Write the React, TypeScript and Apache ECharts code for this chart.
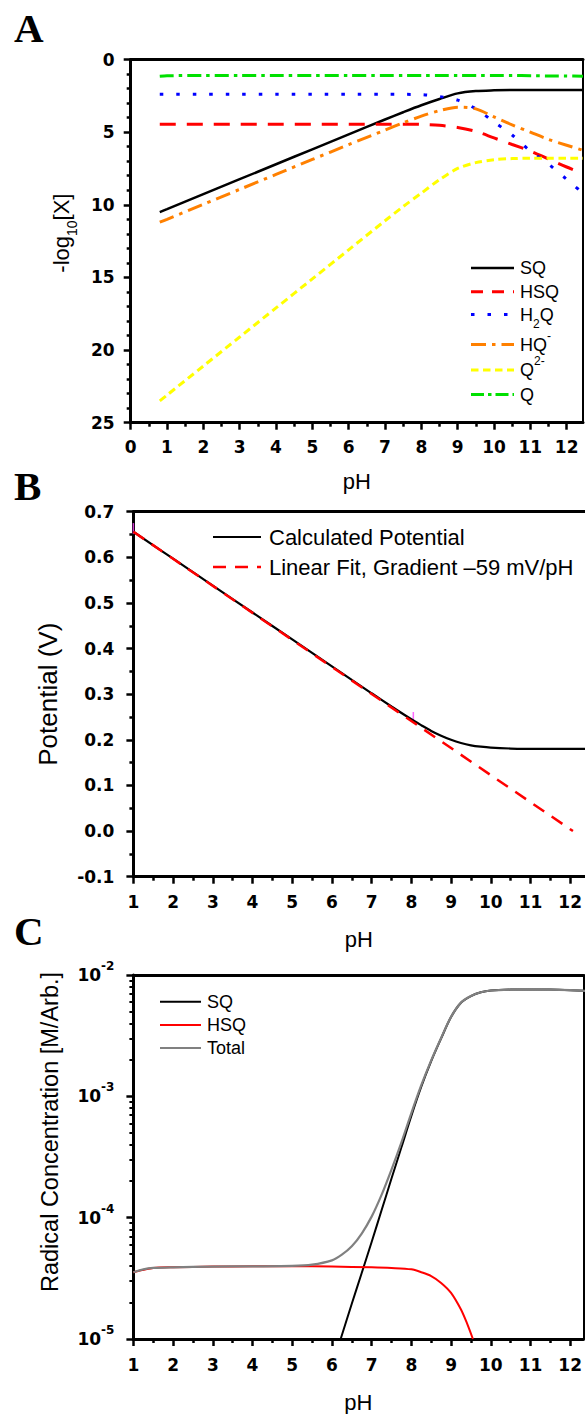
import React, { useEffect, useRef } from 'react';
import * as echarts from 'echarts';

// ---------- Panel A : -log10[X] vs pH ----------
const PH_A = [0.8, 1, 2, 3, 4, 5, 6, 7, 7.5, 8, 8.5, 9, 9.5, 10, 10.5, 11, 11.5, 12, 12.45];
const SQ_A = [10.5, 10.3, 9.27, 8.24, 7.21, 6.18, 5.15, 4.13, 3.63, 3.15, 2.72, 2.33, 2.17, 2.12, 2.1, 2.1, 2.1, 2.1, 2.1];
const HSQ_A = [4.45, 4.45, 4.45, 4.45, 4.45, 4.45, 4.45, 4.45, 4.45, 4.47, 4.53, 4.68, 4.95, 5.4, 5.85, 6.3, 6.85, 7.4, 7.85];
const H2Q_A = [2.4, 2.4, 2.4, 2.4, 2.4, 2.4, 2.4, 2.4, 2.4, 2.42, 2.55, 2.8, 3.4, 4.3, 5.2, 6.3, 7.2, 8.25, 9.2];
const HQ_A = [11.2, 11.0, 9.97, 8.94, 7.91, 6.88, 5.86, 4.86, 4.36, 3.9, 3.52, 3.28, 3.4, 3.95, 4.5, 5.0, 5.5, 5.9, 6.25];
const Q2_A = [23.5, 23.1, 21.1, 19.1, 17.1, 15.1, 13.1, 11.1, 10.12, 9.2, 8.27, 7.5, 7.1, 6.9, 6.82, 6.8, 6.8, 6.8, 6.8];
const Q_A = [1.15, 1.12, 1.1, 1.1, 1.1, 1.1, 1.1, 1.1, 1.1, 1.1, 1.1, 1.1, 1.1, 1.1, 1.1, 1.12, 1.13, 1.14, 1.15];
const X_TICKS_A = [0, 1, 2, 3, 4, 5, 6, 7, 8, 9, 10, 11, 12];

// ---------- Panel B : Potential vs pH ----------
const PH_B = [1, 2, 3, 4, 5, 6, 7, 7.5, 8, 8.25, 8.5, 8.75, 9, 9.25, 9.5, 9.75, 10, 10.5, 11, 11.5, 12, 12.4];
const E_B = [0.656, 0.597, 0.538, 0.479, 0.42, 0.361, 0.302, 0.273, 0.245, 0.232, 0.2195, 0.209, 0.2, 0.193, 0.188, 0.1849, 0.1828, 0.1809, 0.1803, 0.1801, 0.18, 0.18];
const PH_FIT_B = [1, 12.07];
const E_FIT_B = [0.656, 0.0];
const MARKS_B = [[1.0, 0.663], [8.05, 0.249]];
const X_TICKS_BC = [1, 2, 3, 4, 5, 6, 7, 8, 9, 10, 11, 12];

// ---------- Panel C : Radical concentration vs pH ----------
const PH_C_SQ = [6.22, 6.5, 6.75, 7, 7.25, 7.5, 7.75, 8, 8.25, 8.5, 8.75, 9, 9.25, 9.5, 9.75, 10, 10.5, 11, 11.5, 12, 12.4];
const SQ_C = [1e-5, 1.95e-5, 3.5e-5, 6.3e-5, 1.15e-4, 2.1e-4, 3.8e-4, 6.9e-4, 1.2e-3, 1.95e-3, 3.0e-3, 4.5e-3, 5.9e-3, 6.7e-3, 7.2e-3, 7.45e-3, 7.58e-3, 7.6e-3, 7.58e-3, 7.5e-3, 7.4e-3];
const PH_C_HSQ = [1, 1.5, 2, 3, 4, 5, 6, 7, 7.5, 8, 8.25, 8.5, 8.75, 9, 9.25, 9.4, 9.55];
const HSQ_C = [3.55e-5, 3.85e-5, 3.9e-5, 3.95e-5, 3.97e-5, 3.98e-5, 3.95e-5, 3.9e-5, 3.85e-5, 3.75e-5, 3.55e-5, 3.3e-5, 2.9e-5, 2.4e-5, 1.75e-5, 1.35e-5, 1.0e-5];
const PH_C_TOTAL = [1, 1.25, 1.5, 2, 3, 4, 5, 5.5, 6, 6.25, 6.5, 6.75, 7, 7.25, 7.5, 7.75, 8, 8.25, 8.5, 8.75, 9, 9.25, 9.5, 9.75, 10, 10.5, 11, 11.5, 12, 12.4];
const TOTAL_C = [3.55e-5, 3.75e-5, 3.85e-5, 3.9e-5, 3.95e-5, 3.97e-5, 4.0e-5, 4.1e-5, 4.45e-5, 4.95e-5, 5.8e-5, 7.4e-5, 1.02e-4, 1.54e-4, 2.49e-4, 4.18e-4, 7.28e-4, 1.235e-3, 1.98e-3, 3.03e-3, 4.52e-3, 5.92e-3, 6.71e-3, 7.2e-3, 7.45e-3, 7.58e-3, 7.6e-3, 7.58e-3, 7.5e-3, 7.4e-3];
const Y_TICKS_C = [1e-5, 1e-4, 1e-3, 1e-2];
const Y_MINOR_C = [
  2e-5, 3e-5, 4e-5, 5e-5, 6e-5, 7e-5, 8e-5, 9e-5,
  2e-4, 3e-4, 4e-4, 5e-4, 6e-4, 7e-4, 8e-4, 9e-4,
  2e-3, 3e-3, 4e-3, 5e-3, 6e-3, 7e-3, 8e-3, 9e-3,
];

const SANS = "'Liberation Sans', Arial, sans-serif";
const TICK = { fontFamily: "'DejaVu Sans', sans-serif", fontWeight: 'bold', fontSize: 17, color: '#000' };

const zip = (xs: number[], ys: number[]) => xs.map((x, i) => [x, ys[i]]);

function xBottom(grid: number, min: number, max: number, ticks: number[], nameGap: number, margin: number) {
  return {
    type: 'value', gridIndex: grid, position: 'bottom', min, max, interval: 1,
    name: 'pH', nameLocation: 'middle', nameGap,
    nameTextStyle: { fontFamily: SANS, fontSize: 22, color: '#000', verticalAlign: 'middle' },
    axisLine: { show: true, onZero: false, lineStyle: { color: '#000', width: 3 } },
    axisTick: { show: true, length: 7, customValues: ticks, lineStyle: { color: '#000', width: 2.5 } },
    minorTick: { show: true, splitNumber: 2, length: 4, lineStyle: { color: '#000', width: 2.5 } },
    axisLabel: { ...TICK, margin, customValues: ticks },
    splitLine: { show: false },
  };
}
function xTop(grid: number, min: number, max: number) {
  return {
    type: 'value', gridIndex: grid, position: 'top', min, max,
    axisLine: { show: true, onZero: false, lineStyle: { color: '#000', width: 3 } },
    axisTick: { show: false }, axisLabel: { show: false }, splitLine: { show: false },
  };
}
function yRight(grid: number) {
  return {
    type: 'value', gridIndex: grid, position: 'right', min: 0, max: 1,
    axisLine: { show: true, onZero: false, lineStyle: { color: '#000', width: 2 } },
    axisTick: { show: false }, axisLabel: { show: false }, splitLine: { show: false },
  };
}

function legendLine(x1: number, x2: number, y: number, color: string, width: number, dash?: number[]) {
  return {
    type: 'line', silent: true,
    shape: { x1, y1: y, x2, y2: y },
    style: { stroke: color, lineWidth: width, lineDash: dash || null },
  };
}
function legendText(x: number, y: number, text: string, size: number, rich?: any) {
  return {
    type: 'text', x, y, silent: true,
    style: { text, fontFamily: SANS, fontSize: size, fill: '#000', align: 'left', verticalAlign: 'middle', rich },
  };
}
function panelLetter(x: number, y: number, text: string) {
  return {
    type: 'text', x, y, silent: true,
    style: { text, fontFamily: "'Liberation Serif', 'Times New Roman', serif", fontWeight: 'bold', fontSize: 41, fill: '#000', align: 'left', verticalAlign: 'middle' },
  };
}

const SUBSUP = {
  sub: { fontSize: 12, lineHeight: 30, verticalAlign: 'bottom' },
  sup: { fontSize: 12, lineHeight: 30, verticalAlign: 'top' },
};

const DASH = {
  HSQ: [16, 11],
  H2Q: [3.5, 13],
  HQ: [15, 6, 3.5, 6],
  Q2: [7.5, 4.5],
  Q: [14, 5, 3.5, 5],
  FIT: [13, 9],
};

export default function App() {
  const ref = useRef<HTMLDivElement>(null);
  useEffect(() => {
    const chart = echarts.init(ref.current!, null, { renderer: 'svg' });
    const lineA = (name: string, xs: number[], ys: number[], color: string, width: number, dash?: number[]) => ({
      name, type: 'line', xAxisIndex: 0, yAxisIndex: 0, data: zip(xs, ys), symbol: 'none', smooth: 0.3,
      lineStyle: { color, width, type: dash || 'solid' }, itemStyle: { color },
    });
    const option: any = {
      animation: false,
      backgroundColor: '#ffffff',
      grid: [
        { left: 130.7, top: 59.5, width: 452.3, height: 363.2 },
        { left: 133.4, top: 511.7, width: 451.6, height: 365 },
        { left: 133.4, top: 975, width: 450.5, height: 365 },
      ],
      xAxis: [
        xBottom(0, 0, 12.45, X_TICKS_A, 59, 16),
        xTop(0, 0, 12.45),
        xBottom(1, 1, 12.36, X_TICKS_BC, 63, 17),
        xTop(1, 1, 12.36),
        xBottom(2, 1, 12.333, X_TICKS_BC, 63, 17),
        xTop(2, 1, 12.333),
      ],
      yAxis: [
        {
          type: 'value', gridIndex: 0, inverse: true, min: 0, max: 25, interval: 5,
          name: '-log{sub|10}[X]', nameLocation: 'middle', nameGap: 69, nameRotate: 90,
          nameTextStyle: {
            fontFamily: SANS, fontSize: 22, color: '#000', verticalAlign: 'middle', padding: [0, 0, 0, 16],
            rich: { sub: { fontFamily: SANS, fontSize: 14, lineHeight: 34, verticalAlign: 'bottom' } },
          },
          axisLine: { show: true, onZero: false, lineStyle: { color: '#000', width: 3 } },
          axisTick: { show: true, length: 7, lineStyle: { color: '#000', width: 2.5 } },
          minorTick: { show: true, splitNumber: 5, length: 4, lineStyle: { color: '#000', width: 2.5 } },
          axisLabel: { ...TICK, margin: 16 },
          splitLine: { show: false },
        },
        yRight(0),
        {
          type: 'value', gridIndex: 1, min: -0.1, max: 0.7, interval: 0.1,
          name: 'Potential (V)', nameLocation: 'middle', nameGap: 85, nameRotate: 90,
          nameTextStyle: { fontFamily: SANS, fontSize: 26, color: '#000', verticalAlign: 'middle' },
          axisLine: { show: true, onZero: false, lineStyle: { color: '#000', width: 3 } },
          axisTick: { show: true, length: 7, lineStyle: { color: '#000', width: 2.5 } },
          minorTick: { show: true, splitNumber: 2, length: 4, lineStyle: { color: '#000', width: 2.5 } },
          axisLabel: { ...TICK, margin: 19, formatter: (v: number) => v.toFixed(1) },
          splitLine: { show: false },
        },
        {
          type: 'log', logBase: 10, gridIndex: 2, min: 1e-5, max: 1e-2,
          name: 'Radical Concentration [M/Arb.]', nameLocation: 'middle', nameGap: 83, nameRotate: 90,
          nameTextStyle: { fontFamily: SANS, fontSize: 23.5, color: '#000', verticalAlign: 'middle', padding: [0, 0, 0, 50] },
          axisLine: { show: true, onZero: false, lineStyle: { color: '#000', width: 3 } },
          axisTick: { show: true, length: 7, customValues: Y_TICKS_C, lineStyle: { color: '#000', width: 2.5 } },
          axisLabel: {
            ...TICK, margin: 19, customValues: Y_TICKS_C,
            formatter: (v: number) => '10{sup|' + Math.round(Math.log10(v)) + '}',
            rich: { sup: { fontFamily: "'DejaVu Sans', sans-serif", fontWeight: 'bold', fontSize: 12, lineHeight: 30, verticalAlign: 'top', color: '#000' } },
          },
          splitLine: { show: false },
        },
        {
          type: 'log', logBase: 10, gridIndex: 2, min: 1e-5, max: 1e-2, position: 'left',
          axisLine: { show: false },
          axisTick: { show: true, length: 4, customValues: Y_MINOR_C, lineStyle: { color: '#000', width: 2 } },
          axisLabel: { show: false }, splitLine: { show: false },
        },
        yRight(2),
      ],
      series: [
        lineA('SQ', PH_A, SQ_A, '#000000', 2.5),
        lineA('HSQ', PH_A, HSQ_A, '#ff0000', 3, DASH.HSQ),
        lineA('H2Q', PH_A, H2Q_A, '#0000ff', 3, DASH.H2Q),
        lineA('HQ-', PH_A, HQ_A, '#ff8000', 3, DASH.HQ),
        lineA('Q2-', PH_A, Q2_A, '#ffff00', 3, DASH.Q2),
        lineA('Q', PH_A, Q_A, '#00e000', 3, DASH.Q),
        {
          name: 'Calculated Potential', type: 'line', xAxisIndex: 2, yAxisIndex: 2, data: zip(PH_B, E_B),
          symbol: 'none', smooth: 0.3, lineStyle: { color: '#000', width: 2.2 }, itemStyle: { color: '#000' },
        },
        {
          name: 'Linear Fit, Gradient –59 mV/pH', type: 'line', xAxisIndex: 2, yAxisIndex: 2, data: zip(PH_FIT_B, E_FIT_B),
          symbol: 'none', lineStyle: { color: '#ff0000', width: 2.5, type: DASH.FIT }, itemStyle: { color: '#ff0000' },
        },
        {
          name: 'marks', type: 'scatter', xAxisIndex: 2, yAxisIndex: 2, data: MARKS_B,
          symbol: 'rect', symbolSize: [1.5, 11], itemStyle: { color: '#ff44ff' }, silent: true,
        },
        {
          name: 'SQ', type: 'line', xAxisIndex: 4, yAxisIndex: 3, data: zip(PH_C_SQ, SQ_C),
          symbol: 'none', smooth: 0.3, lineStyle: { color: '#000', width: 2 }, itemStyle: { color: '#000' },
        },
        {
          name: 'HSQ', type: 'line', xAxisIndex: 4, yAxisIndex: 3, data: zip(PH_C_HSQ, HSQ_C),
          symbol: 'none', smooth: 0.3, lineStyle: { color: '#ff0000', width: 2 }, itemStyle: { color: '#ff0000' },
        },
        {
          name: 'Total', type: 'line', xAxisIndex: 4, yAxisIndex: 3, data: zip(PH_C_TOTAL, TOTAL_C),
          symbol: 'none', smooth: 0.3, lineStyle: { color: '#808080', width: 2.2 }, itemStyle: { color: '#808080' },
        },
      ],
      graphic: [
        panelLetter(14, 27.5, 'A'),
        panelLetter(14, 486, 'B'),
        panelLetter(14, 931, 'C'),
        // legend A
        legendLine(471, 514, 268, '#000', 2.5),
        legendText(520, 268, 'SQ', 18),
        legendLine(471, 514, 291.7, '#ff0000', 3, [12, 9]),
        legendText(520, 291.7, 'HSQ', 18),
        legendLine(471, 514, 314.5, '#0000ff', 3, [3.5, 13]),
        legendText(520, 314.5, 'H{sub|2}Q', 18, SUBSUP),
        legendLine(471, 514, 344.5, '#ff8000', 3, [15, 6, 3.5, 6]),
        legendText(520, 344.5, 'HQ{sup|-}', 18, SUBSUP),
        legendLine(471, 514, 370, '#ffff00', 3, [7.5, 4.5]),
        legendText(520, 370, 'Q{sup|2-}', 18, SUBSUP),
        legendLine(471, 514, 394.5, '#00e000', 3, [13, 4, 3.5, 4]),
        legendText(520, 394.5, 'Q', 18),
        // legend B
        legendLine(213, 261, 537, '#000', 2),
        legendText(269, 537, 'Calculated Potential', 22),
        legendLine(213, 261, 567, '#ff0000', 2.5, [13, 9]),
        legendText(269, 567, 'Linear Fit, Gradient –59 mV/pH', 22),
        // legend C
        legendLine(160, 201, 1001.7, '#000', 2),
        legendText(207, 1001.7, 'SQ', 18),
        legendLine(160, 201, 1025, '#ff0000', 2),
        legendText(207, 1025, 'HSQ', 18),
        legendLine(160, 201, 1048, '#808080', 2),
        legendText(207, 1048, 'Total', 18),
      ],
    };
    chart.setOption(option);
    return () => chart.dispose();
  }, []);
  return (
    <div
      ref={ref}
      style={{ position: 'absolute', left: 0, top: 0, width: 585, height: 1414, background: '#fff' }}
    />
  );
}
